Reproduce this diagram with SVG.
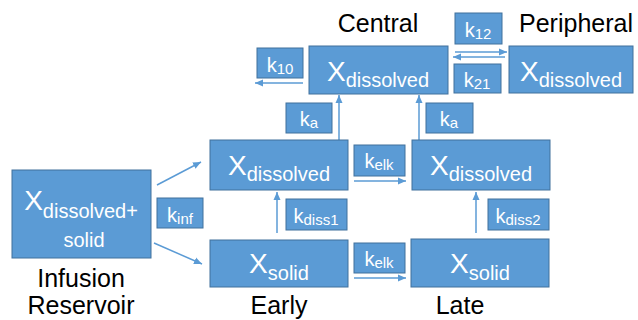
<svg xmlns="http://www.w3.org/2000/svg" width="638" height="320" viewBox="0 0 638 320">
  <style>
    text { font-family: "Liberation Sans", Arial, sans-serif; }
    .box { fill: #5B9BD5; stroke: #41719C; stroke-width: 1; }
    .big { fill: #ffffff; font-size: 28px; text-anchor: middle; }
    .sub { font-size: 20px; }
    .k { fill: #ffffff; font-size: 20px; text-anchor: middle; }
    .ks { font-size: 15px; }
    .cap { fill: #000000; font-size: 25px; text-anchor: middle; }
    .conn { stroke: #5B9BD5; stroke-width: 1.5; fill: none; marker-end: url(#head); }
  </style>
  <defs>
    <marker id="head" markerUnits="userSpaceOnUse" markerWidth="8" markerHeight="8" viewBox="0 0 8 8" refX="8" refY="4" orient="auto">
      <path d="M0,0.5 L8,4 L0,7.5 Z" fill="#5B9BD5"/>
    </marker>
  </defs>

  <rect width="638" height="320" fill="#ffffff"/>

  <!-- compartment captions -->
  <text class="cap" x="378" y="32">Central</text>
  <text class="cap" x="576" y="32">Peripheral</text>
  <text class="cap" x="81" y="287">Infusion</text>
  <text class="cap" x="81" y="314">Reservoir</text>
  <text class="cap" x="279" y="314">Early</text>
  <text class="cap" x="460" y="314">Late</text>

  <!-- connectors -->
  <g id="connectors">
    <line class="conn" x1="303" y1="83" x2="255" y2="83"/>
    <line class="conn" x1="455" y1="52" x2="507" y2="52"/>
    <line class="conn" x1="505" y1="57" x2="453" y2="57"/>
    <line class="conn" x1="339" y1="140" x2="339" y2="95"/>
    <line class="conn" x1="419" y1="140" x2="419" y2="95"/>
    <line class="conn" x1="157" y1="185" x2="201" y2="162"/>
    <line class="conn" x1="154" y1="243" x2="202" y2="264"/>
    <line class="conn" x1="277" y1="233" x2="277" y2="192"/>
    <line class="conn" x1="476" y1="233" x2="476" y2="192"/>
    <line class="conn" x1="354" y1="181" x2="406" y2="181"/>
    <line class="conn" x1="354" y1="278" x2="406" y2="278"/>
  </g>

  <!-- compartments -->
  <g id="infusion">
    <rect class="box" x="12" y="170" width="139" height="88"/>
    <text class="big" x="81" y="210">X<tspan class="sub" dy="8">dissolved+</tspan></text>
    <text class="big" x="84" y="247" style="font-size:20px">solid</text>
  </g>
  <g id="central">
    <rect class="box" x="309" y="46" width="139" height="48"/>
    <text class="big" x="378" y="81">X<tspan class="sub" dy="6">dissolved</tspan></text>
  </g>
  <g id="peripheral">
    <rect class="box" x="509" y="46" width="124" height="47"/>
    <text class="big" x="571" y="81">X<tspan class="sub" dy="6">dissolved</tspan></text>
  </g>
  <g id="early-dissolved">
    <rect class="box" x="210" y="140" width="138" height="50"/>
    <text class="big" x="279" y="175">X<tspan class="sub" dy="6">dissolved</tspan></text>
  </g>
  <g id="early-solid">
    <rect class="box" x="210" y="240" width="138" height="47"/>
    <text class="big" x="279" y="273">X<tspan class="sub" dy="7">solid</tspan></text>
  </g>
  <g id="late-dissolved">
    <rect class="box" x="412" y="140" width="138" height="50"/>
    <text class="big" x="481" y="175">X<tspan class="sub" dy="6">dissolved</tspan></text>
  </g>
  <g id="late-solid">
    <rect class="box" x="411" y="239" width="138" height="48"/>
    <text class="big" x="480" y="273">X<tspan class="sub" dy="7">solid</tspan></text>
  </g>

  <!-- rate constant labels -->
  <g id="k10">
    <rect class="box" x="257" y="48" width="46" height="30"/>
    <text class="k" x="280" y="72">k<tspan class="ks" dy="2">10</tspan></text>
  </g>
  <g id="k12">
    <rect class="box" x="455" y="13" width="47" height="31"/>
    <text class="k" x="478" y="37">k<tspan class="ks" dy="2">12</tspan></text>
  </g>
  <g id="k21">
    <rect class="box" x="454" y="64" width="47" height="29"/>
    <text class="k" x="477" y="87">k<tspan class="ks" dy="2">21</tspan></text>
  </g>
  <g id="ka-early">
    <rect class="box" x="286" y="103" width="46" height="30"/>
    <text class="k" x="309" y="126">k<tspan class="ks" dy="2">a</tspan></text>
  </g>
  <g id="ka-late">
    <rect class="box" x="426" y="103" width="47" height="30"/>
    <text class="k" x="449" y="126">k<tspan class="ks" dy="2">a</tspan></text>
  </g>
  <g id="kinf">
    <rect class="box" x="157" y="198" width="46" height="30"/>
    <text class="k" x="180" y="222">k<tspan class="ks" dy="2">inf</tspan></text>
  </g>
  <g id="kdiss1">
    <rect class="box" x="286" y="199" width="61" height="31"/>
    <text class="k" x="316" y="223">k<tspan class="ks" dy="2">diss1</tspan></text>
  </g>
  <g id="kdiss2">
    <rect class="box" x="488" y="199" width="61" height="31"/>
    <text class="k" x="518" y="223">k<tspan class="ks" dy="2">diss2</tspan></text>
  </g>
  <g id="kelk-dissolved">
    <rect class="box" x="354" y="145" width="51" height="31"/>
    <text class="k" x="379" y="168">k<tspan class="ks" dy="2">elk</tspan></text>
  </g>
  <g id="kelk-solid">
    <rect class="box" x="354" y="243" width="51" height="30"/>
    <text class="k" x="379" y="266">k<tspan class="ks" dy="2">elk</tspan></text>
  </g>
</svg>
